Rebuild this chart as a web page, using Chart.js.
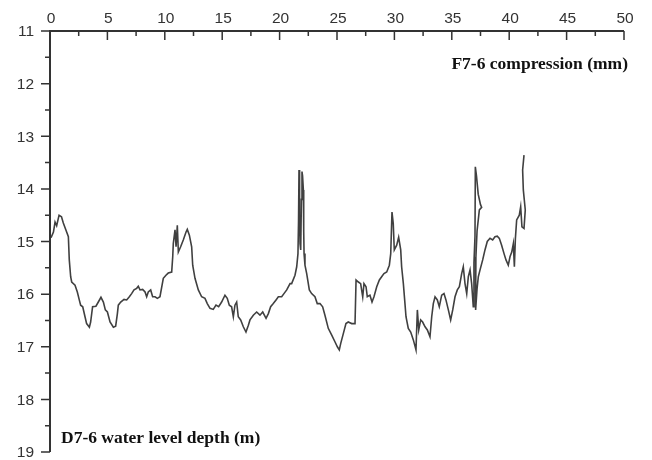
<!DOCTYPE html>
<html>
<head>
<meta charset="utf-8">
<script src="https://cdn.jsdelivr.net/npm/chart.js@4/dist/chart.umd.min.js"></script>
<style>
  html, body { margin: 0; padding: 0; background: #fff; }
  #wrap { width: 652px; height: 460px; }
</style>
</head>
<body>
<div id="wrap"><canvas id="chart" width="652" height="460"></canvas></div>
<script>
'use strict';

/* ── DATA ── */
// F7-6 compression (mm)
const compression = [
  0.09, 0.3, 0.44, 0.58, 0.79, 1.0, 1.16, 1.45, 1.6, 1.68, 1.8, 1.89, 2.18, 2.38, 2.55, 2.67, 2.85,
  3.05, 3.19, 3.43, 3.54, 3.71, 4.0, 4.21, 4.44, 4.65, 4.82, 5.0, 5.23, 5.52, 5.72, 5.87, 5.95,
  6.16, 6.45, 6.68, 6.91, 7.11, 7.32, 7.55, 7.69, 7.84, 8.07, 8.28, 8.42, 8.56, 8.77, 8.94, 9.15,
  9.35, 9.58, 9.87, 10.1, 10.3, 10.6, 10.69, 10.74, 10.89, 10.98, 11.09, 11.18, 11.38, 11.61,
  11.85, 11.96, 12.14, 12.34, 12.43, 12.63, 12.92, 13.21, 13.5, 13.7, 13.94, 14.22, 14.46, 14.69,
  14.95, 15.24, 15.44, 15.62, 15.82, 15.97, 16.11, 16.26, 16.4, 16.61, 16.84, 17.07, 17.28, 17.42,
  17.71, 18.0, 18.29, 18.53, 18.82, 19.02, 19.22, 19.45, 19.69, 19.89, 20.18, 20.38, 20.62, 20.91,
  21.05, 21.34, 21.49, 21.6, 21.65, 21.69, 21.74, 21.78, 21.84, 21.9, 21.95, 22.0, 22.07, 22.1,
  22.13, 22.21, 22.36, 22.59, 22.79, 23.08, 23.28, 23.52, 23.75, 23.95, 24.24, 24.54, 24.83, 25.03,
  25.2, 25.32, 25.55, 25.78, 25.98, 26.28, 26.57, 26.66, 26.86, 27.06, 27.24, 27.35, 27.53, 27.64,
  27.87, 28.05, 28.22, 28.46, 28.69, 28.89, 29.09, 29.33, 29.56, 29.68, 29.79, 29.9, 29.99, 30.2,
  30.37, 30.55, 30.63, 30.78, 30.92, 31.01, 31.21, 31.42, 31.65, 31.88, 32.0, 32.12, 32.29, 32.46,
  32.67, 32.87, 33.1, 33.25, 33.39, 33.54, 33.74, 33.91, 34.12, 34.32, 34.49, 34.7, 34.9, 35.08,
  35.28, 35.48, 35.66, 35.86, 36.0, 36.15, 36.3, 36.44, 36.59, 36.73, 36.87, 36.93, 37.02, 37.05,
  37.15, 37.3, 37.5, 37.6, 37.4, 37.2, 37.1, 37.05, 37.1, 37.2, 37.31, 37.46, 37.69, 37.89, 38.09,
  38.33, 38.56, 38.76, 38.96, 39.14, 39.34, 39.55, 39.72, 39.92, 40.07, 40.22, 40.36, 40.45, 40.54,
  40.65, 40.88, 41.0, 41.11, 41.29, 41.4, 41.23, 41.17, 41.29
];

// D7-6 water level depth (m)
const depth = [
  14.93, 14.82, 14.63, 14.7, 14.5, 14.53, 14.65, 14.82, 14.91, 15.35, 15.67, 15.77, 15.83, 15.96, 16.11, 16.21, 16.24,
  16.43, 16.56, 16.63, 16.53, 16.24, 16.23, 16.15, 16.06, 16.15, 16.3, 16.34, 16.53, 16.63, 16.61, 16.37, 16.21,
  16.15, 16.1, 16.11, 16.05, 15.99, 15.92, 15.89, 15.85, 15.92, 15.91, 15.96, 16.05, 15.96, 15.92, 16.05, 16.05,
  16.08, 16.05, 15.7, 15.64, 15.6, 15.58, 15.29, 15.04, 14.78, 15.1, 14.69, 15.2, 15.1, 14.97,
  14.82, 14.77, 14.88, 15.1, 15.45, 15.7, 15.92, 16.05, 16.08, 16.18, 16.27, 16.29, 16.21, 16.24,
  16.15, 16.02, 16.08, 16.21, 16.24, 16.43, 16.21, 16.15, 16.43, 16.49, 16.62, 16.72, 16.59, 16.49,
  16.4, 16.34, 16.4, 16.34, 16.46, 16.37, 16.24, 16.18, 16.11, 16.05, 16.05, 15.99, 15.92, 15.8,
  15.8, 15.64, 15.48, 15.23, 14.6, 13.64, 14.5, 15.04, 15.16, 14.2, 13.67, 13.75, 14.02, 14.8,
  15.23, 15.45, 15.61, 15.92, 15.99, 16.05, 16.18, 16.18, 16.24, 16.4, 16.65, 16.78, 16.91, 17.0,
  17.06, 16.94, 16.75, 16.56, 16.53, 16.56, 16.56, 15.73, 15.77, 15.8, 16.05, 15.8, 15.86, 16.05,
  16.02, 16.15, 16.05, 15.86, 15.73, 15.67, 15.61, 15.58, 15.45, 15.23, 14.44, 14.66, 15.16, 15.07,
  14.92, 15.16, 15.48, 15.8, 16.18, 16.43, 16.65, 16.72, 16.87, 17.06, 16.3, 16.68, 16.49, 16.53,
  16.62, 16.68, 16.81, 16.43, 16.18, 16.05, 16.11, 16.24, 16.02, 15.99, 16.11, 16.3, 16.49, 16.3,
  16.05, 15.92, 15.86, 15.61, 15.48, 15.8, 15.99, 15.67, 15.54, 15.8, 16.24, 15.4, 14.9, 13.58,
  13.75, 14.1, 14.3, 14.35, 14.4, 14.8, 15.3, 16.0, 16.3, 15.9, 15.67, 15.54, 15.35, 15.16, 15.0,
  14.94, 14.97, 14.91, 14.9, 14.94, 15.07, 15.23, 15.35, 15.45, 15.29, 15.2, 15.04, 15.48, 14.94,
  14.59, 14.5, 14.34, 14.72, 14.75, 14.4, 14.02, 13.64, 13.36
];

const xTicks = [0, 5, 10, 15, 20, 25, 30, 35, 40, 45, 50];
const yTicks = [11, 12, 13, 14, 15, 16, 17, 18, 19];

const xLabel = 'F7-6 compression (mm)';
const yLabel = 'D7-6 water level depth (m)';

/* ── AXES + LABELS PLUGIN ── */
const axisColor = '#333';
const tickFont = '15.5px "Liberation Sans", Arial, sans-serif';

function minorOf(ticks) {
  const out = [];
  for (let i = 0; i < ticks.length - 1; i++) out.push((ticks[i] + ticks[i + 1]) / 2);
  return out;
}

const axesPlugin = {
  id: 'axesPlugin',
  afterDraw(chart) {
    const { ctx, chartArea: a, scales: { x, y } } = chart;
    ctx.save();
    ctx.strokeStyle = axisColor;
    ctx.lineWidth = 2;
    ctx.beginPath();
    ctx.moveTo(a.left, a.bottom);
    ctx.lineTo(a.left, a.top);
    ctx.lineTo(a.right, a.top);
    ctx.stroke();

    // x ticks point down into the plot
    ctx.lineWidth = 1.5;
    ctx.beginPath();
    xTicks.forEach(v => { const p = x.getPixelForValue(v); ctx.moveTo(p, a.top); ctx.lineTo(p, a.top + 9); });
    minorOf(xTicks).forEach(v => { const p = x.getPixelForValue(v); ctx.moveTo(p, a.top); ctx.lineTo(p, a.top + 5); });
    // y ticks point left
    yTicks.forEach(v => { const p = y.getPixelForValue(v); ctx.moveTo(a.left, p); ctx.lineTo(a.left - 9, p); });
    minorOf(yTicks).forEach(v => { const p = y.getPixelForValue(v); ctx.moveTo(a.left, p); ctx.lineTo(a.left - 5, p); });
    ctx.stroke();

    // tick labels
    ctx.fillStyle = axisColor;
    ctx.font = tickFont;
    ctx.textAlign = 'center';
    ctx.textBaseline = 'alphabetic';
    xTicks.forEach(v => ctx.fillText(String(v), x.getPixelForValue(v) + 1, a.top - 8));
    ctx.textAlign = 'right';
    ctx.textBaseline = 'middle';
    yTicks.forEach(v => ctx.fillText(String(v), a.left - 16, y.getPixelForValue(v) + 1));

    // axis captions
    ctx.fillStyle = '#111';
    ctx.font = 'bold 17.5px "Liberation Serif", "DejaVu Serif", serif';
    ctx.textBaseline = 'alphabetic';
    ctx.textAlign = 'right';
    ctx.fillText(xLabel, a.right + 4, a.top + 38);
    ctx.textAlign = 'left';
    ctx.fillText(yLabel, a.left + 11, a.bottom - 9);
    ctx.restore();
  }
};

/* ── CHART ── */
const points = compression.map((c, i) => ({ x: c, y: depth[i] }));

new Chart(document.getElementById('chart'), {
  type: 'line',
  data: {
    datasets: [{
      data: points,
      borderColor: '#404040',
      borderWidth: 1.6,
      pointRadius: 0,
      tension: 0,
      fill: false
    }]
  },
  options: {
    responsive: false,
    animation: false,
    layout: { padding: { top: 0, right: 28, bottom: 8, left: 0 } },
    plugins: { legend: { display: false }, tooltip: { enabled: false } },
    scales: {
      x: {
        type: 'linear',
        position: 'top',
        min: 0,
        max: 50,
        afterBuildTicks: s => { s.ticks = xTicks.map(v => ({ value: v })); },
        afterFit: s => { s.height = 31; s.paddingLeft = 0; s.paddingRight = 0; },
        grid: { display: false },
        border: { display: false },
        ticks: { display: false }
      },
      y: {
        type: 'linear',
        reverse: true,
        min: 11,
        max: 19,
        afterBuildTicks: s => { s.ticks = yTicks.map(v => ({ value: v })); },
        afterFit: s => { s.width = 50; s.paddingTop = 0; s.paddingBottom = 0; },
        grid: { display: false },
        border: { display: false },
        ticks: { display: false }
      }
    }
  },
  plugins: [axesPlugin]
});
</script>
</body>
</html>
